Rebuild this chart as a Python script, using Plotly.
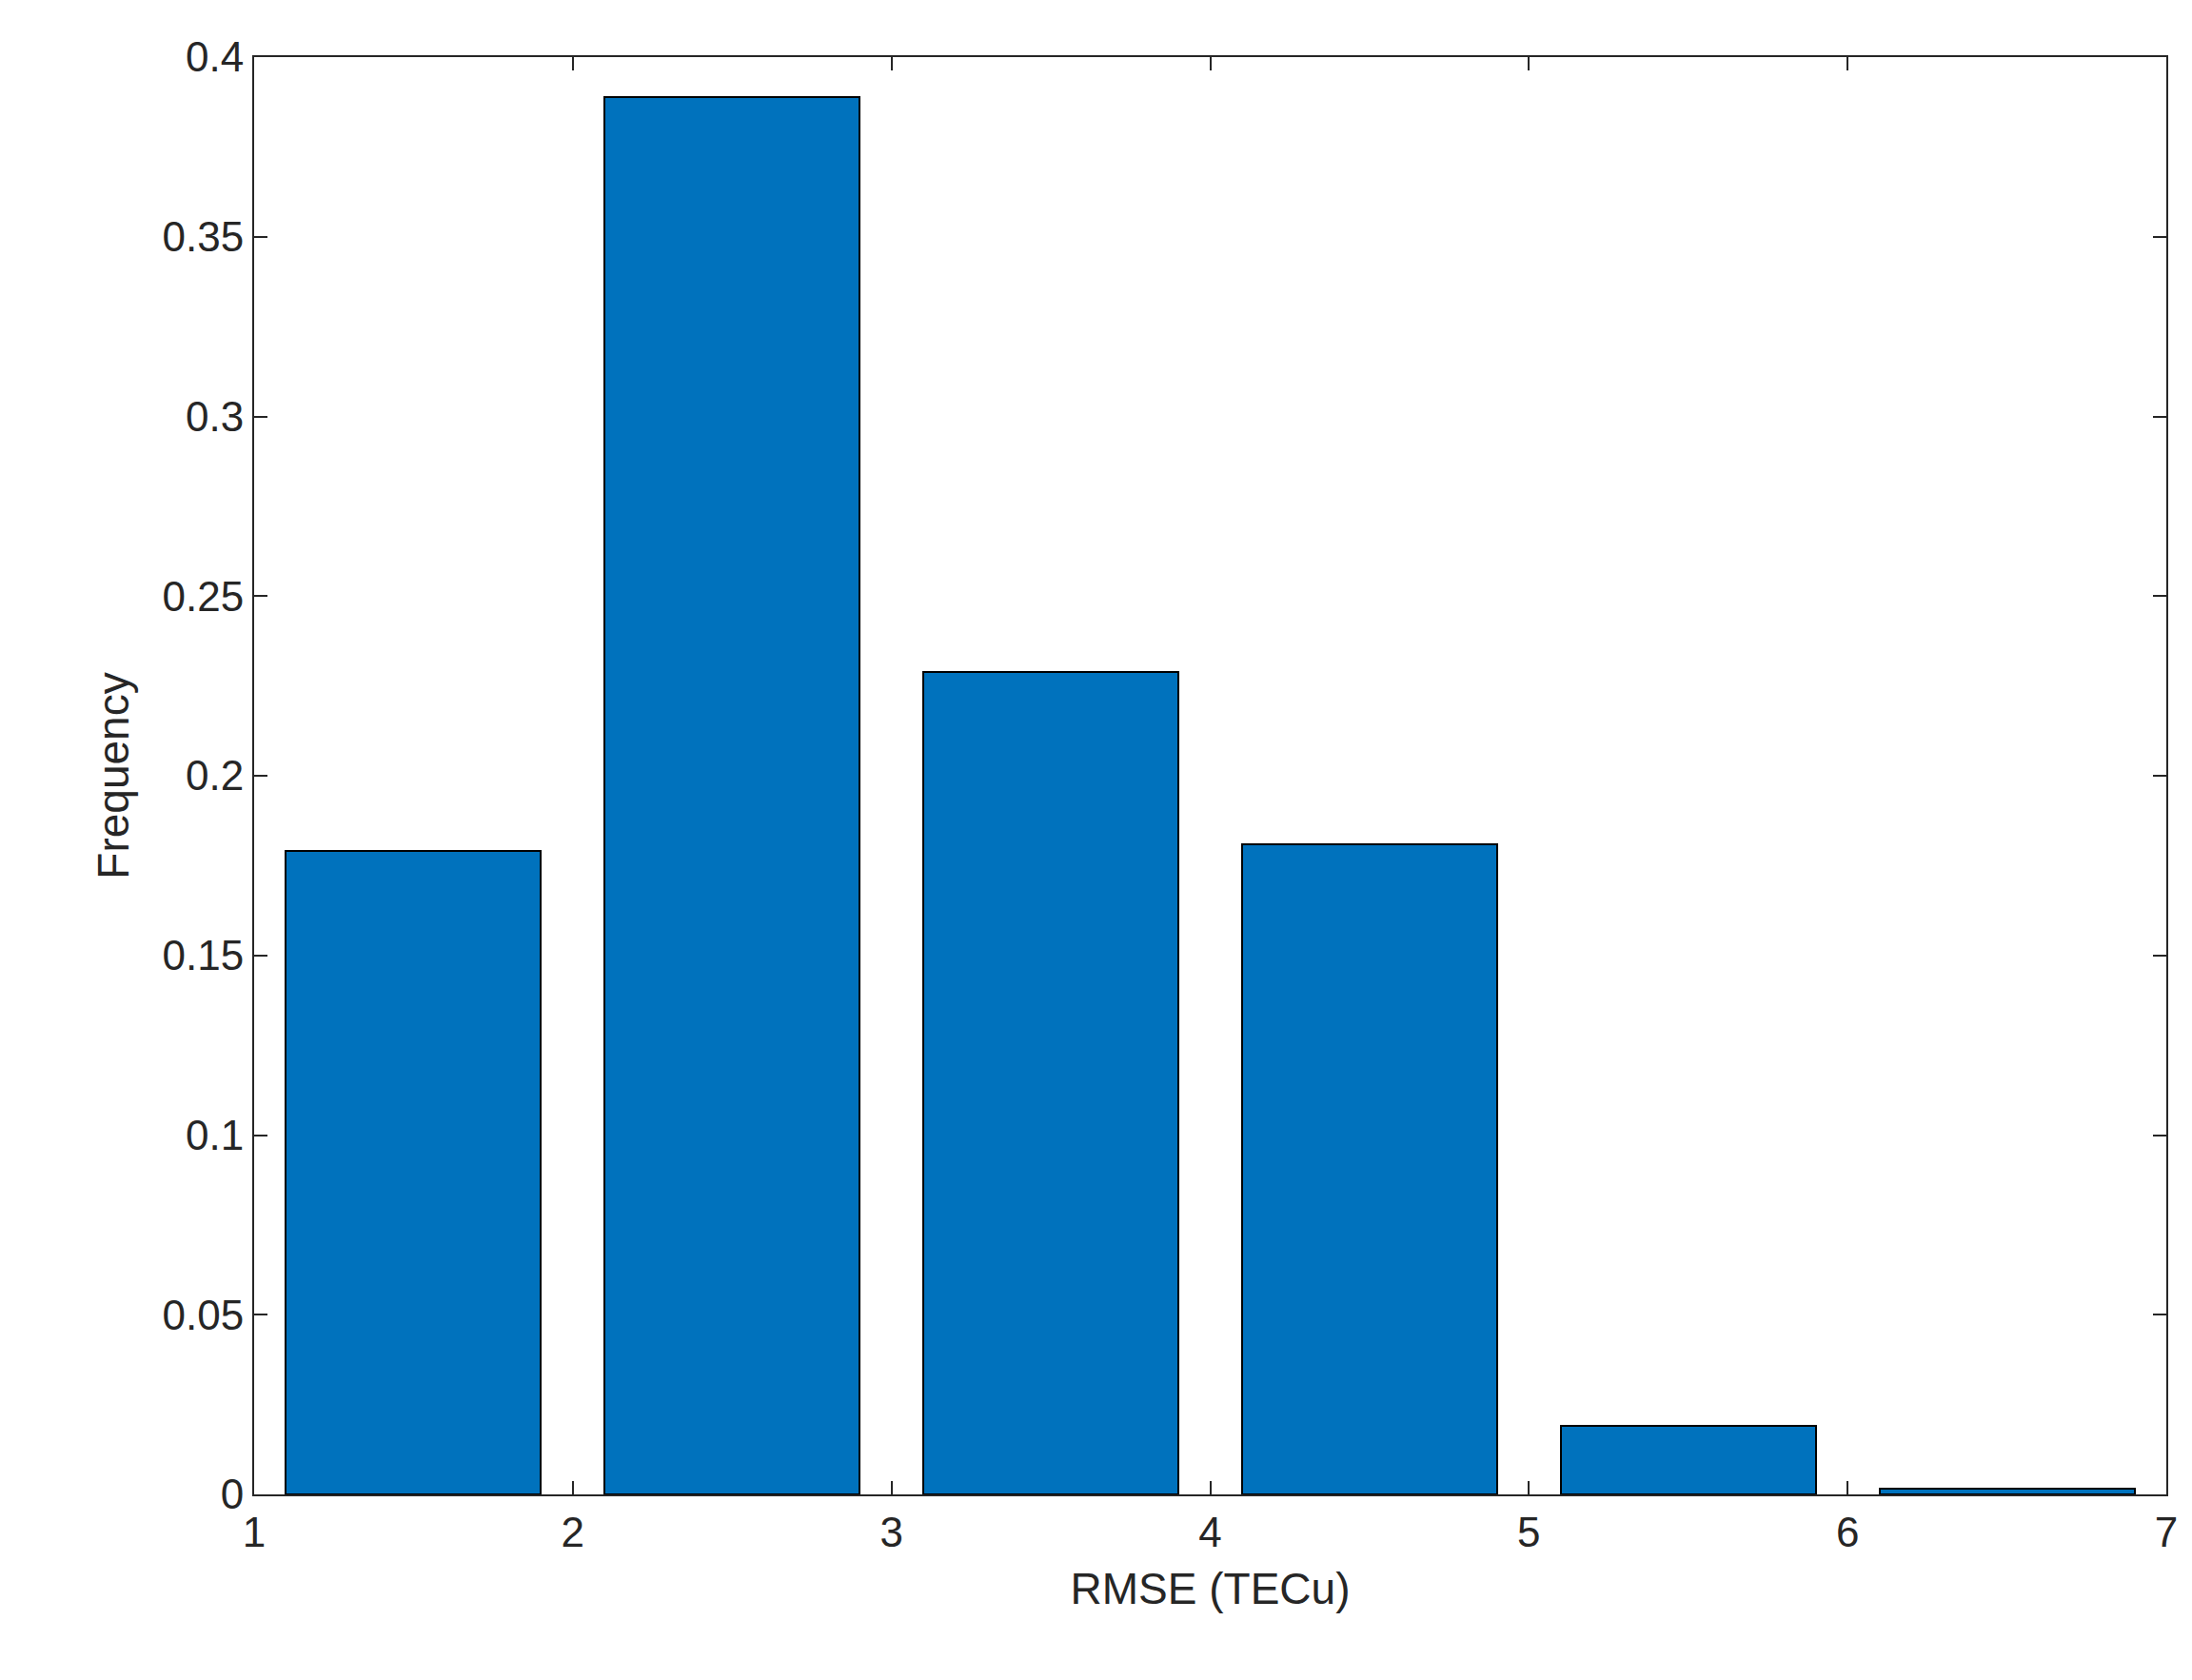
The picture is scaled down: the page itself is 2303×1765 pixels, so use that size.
import plotly.graph_objects as go

centers = [1.5, 2.5, 3.5, 4.5, 5.5, 6.5]
freq = [0.179, 0.389, 0.229, 0.181, 0.019, 0.0015]
xticks = [1, 2, 3, 4, 5, 6, 7]
yticks = [0, 0.05, 0.1, 0.15, 0.2, 0.25, 0.3, 0.35, 0.4]
ytext = ["0", "0.05", "0.1", "0.15", "0.2", "0.25", "0.3", "0.35", "0.4"]

fig = go.Figure(go.Bar(x=centers, y=freq, width=0.8,
                       marker=dict(color="#0072BD", line=dict(color="black", width=2))))
ax = dict(showline=True, linecolor="#262626", linewidth=2, mirror="ticks",
          ticks="inside", ticklen=14, tickwidth=2, tickcolor="#262626",
          showgrid=False, zeroline=False,
          tickfont=dict(family="Liberation Sans", size=44, color="#262626"))
fig.update_xaxes(range=[1, 7], tickvals=xticks,
                 title=dict(text="RMSE (TECu)", font=dict(family="Liberation Sans", size=46, color="#262626"), standoff=20), **ax)
fig.update_yaxes(range=[0, 0.4], tickvals=yticks, ticktext=ytext,
                 title=dict(text="Frequency", font=dict(family="Liberation Sans", size=46, color="#262626"), standoff=20), **ax)
fig.update_layout(width=2303, height=1765, plot_bgcolor="white", paper_bgcolor="white",
                  margin=dict(l=259, r=35, t=52, b=203), showlegend=False, bargap=0)
fig.write_html("out.html")
